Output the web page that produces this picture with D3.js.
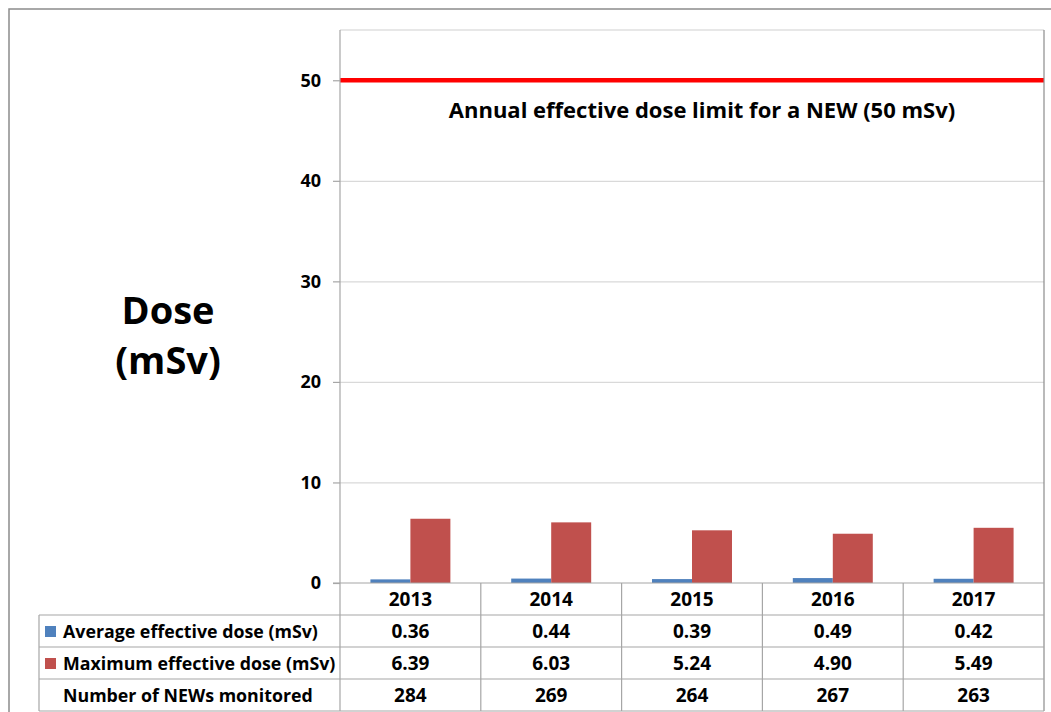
<!DOCTYPE html>
<html>
<head>
<meta charset="utf-8">
<script src="https://cdn.jsdelivr.net/npm/d3@7"></script>
<style>
  html, body { margin: 0; padding: 0; background: #fff; }
  svg { display: block; font-family: "Open Sans", "Noto Sans", sans-serif; }
</style>
</head>
<body>
<svg id="chart" width="1051" height="712"></svg>
<script>
// ---- data ----
const years = ["2013", "2014", "2015", "2016", "2017"];
const averageDose = [0.36, 0.44, 0.39, 0.49, 0.42];
const maximumDose = [6.39, 6.03, 5.24, 4.90, 5.49];
const numberMonitored = [284, 269, 264, 267, 263];
const seriesNames = ["Average effective dose (mSv)", "Maximum effective dose (mSv)"];
const rowLabel3 = "Number of NEWs monitored";
const yTicks = [0, 10, 20, 30, 40, 50];
const doseLimit = 50;
const limitLabel = "Annual effective dose limit for a NEW (50 mSv)";
const yTitle = ["Dose", "(mSv)"];

// ---- layout ----
const svg = d3.select("#chart");
const plotL = 340, plotR = 1044, plotT = 30, plotB = 583;
const tableL = 39, rowH = 32;
const colors = ["#4F81BD", "#C0504D"];

// outer frame
svg.append("rect").attr("x", 9).attr("y", 9).attr("width", 1200).attr("height", 900)
  .attr("fill", "none").attr("stroke", "#8c8c8c").attr("stroke-width", 1.5);

const x0 = d3.scaleBand().domain(years).range([plotL, plotR]).paddingInner(0.432).paddingOuter(0.216);
const xCat = d3.scaleBand().domain(years).range([plotL, plotR]).padding(0);
const x1 = d3.scaleBand().domain([0, 1]).range([0, x0.bandwidth()]);
const y = d3.scaleLinear().domain([0, 55]).range([plotB, plotT]);

// gridlines
svg.append("g").attr("transform", `translate(${plotL},0)`)
  .call(d3.axisLeft(y).tickValues(yTicks.filter(d => d > 0)).tickSize(-(plotR - plotL)).tickFormat(""))
  .call(g => g.select(".domain").remove())
  .call(g => g.selectAll("line").attr("stroke", "#d9d9d9").attr("stroke-width", 1.2));

// plot top border
svg.append("line").attr("x1", plotL).attr("x2", plotR).attr("y1", plotT).attr("y2", plotT)
  .attr("stroke", "#d0d0d0").attr("stroke-width", 1.2);

// bars
const series = [averageDose, maximumDose];
series.forEach((vals, si) => {
  svg.append("g").selectAll("rect").data(years).join("rect")
    .attr("x", d => x0(d) + x1(si))
    .attr("width", x1.bandwidth())
    .attr("y", (d, i) => y(vals[i]))
    .attr("height", (d, i) => y(0) - y(vals[i]))
    .attr("fill", colors[si]);
});

// limit line
svg.append("line").attr("x1", plotL).attr("x2", plotR)
  .attr("y1", y(doseLimit)).attr("y2", y(doseLimit))
  .attr("stroke", "#FF0000").attr("stroke-width", 4.5);

svg.append("text").attr("x", 702).attr("y", 118).attr("text-anchor", "middle")
  .attr("font-size", 22).attr("font-weight", "bold").attr("fill", "#000")
  .text(limitLabel);

// y axis
const yAxisG = svg.append("g").attr("transform", `translate(${plotL},0)`)
  .call(d3.axisLeft(y).tickValues(yTicks).tickSize(7).tickPadding(12).tickFormat(d3.format("d")));
yAxisG.select(".domain").remove();
yAxisG.selectAll("line").attr("stroke", "#a6a6a6").attr("stroke-width", 1.2);
yAxisG.selectAll("text").attr("font-size", 18).attr("font-weight", "bold").attr("fill", "#000")
  .attr("font-family", "'Open Sans', sans-serif");

// axis vertical line (plot left) extends through table
svg.append("line").attr("x1", plotL).attr("x2", plotL).attr("y1", plotT).attr("y2", plotB + rowH * 4)
  .attr("stroke", "#a6a6a6").attr("stroke-width", 1.2);
// right border
svg.append("line").attr("x1", plotR).attr("x2", plotR).attr("y1", plotT).attr("y2", plotB + rowH * 4)
  .attr("stroke", "#8c8c8c").attr("stroke-width", 1.2);

// y title
yTitle.forEach((t, i) => {
  svg.append("text").attr("x", 168).attr("y", 324 + i * 50).attr("text-anchor", "middle")
    .attr("font-size", 38).attr("font-weight", "bold").attr("fill", "#000").text(t);
});

// ---- data table ----
const tbl = svg.append("g");
// horizontal lines
[0, 1, 2, 3, 4].forEach(r => {
  const yy = plotB + r * rowH;
  tbl.append("line").attr("x1", r === 0 ? plotL - 7 : tableL).attr("x2", plotR)
    .attr("y1", yy).attr("y2", yy)
    .attr("stroke", "#a6a6a6").attr("stroke-width", 1.2);
});
// left border
tbl.append("line").attr("x1", tableL).attr("x2", tableL).attr("y1", plotB + rowH).attr("y2", plotB + rowH * 4)
  .attr("stroke", "#a6a6a6").attr("stroke-width", 1.2);
// column dividers
years.slice(1).forEach(yr => {
  tbl.append("line").attr("x1", xCat(yr)).attr("x2", xCat(yr))
    .attr("y1", plotB).attr("y2", plotB + rowH * 4)
    .attr("stroke", "#a6a6a6").attr("stroke-width", 1.2);
});

const rows = [
  years,
  averageDose.map(v => v.toFixed(2)),
  maximumDose.map(v => v.toFixed(2)),
  numberMonitored.map(v => String(v))
];
rows.forEach((vals, r) => {
  tbl.append("g").selectAll("text").data(vals).join("text")
    .attr("x", (d, i) => xCat(years[i]) + xCat.bandwidth() / 2)
    .attr("y", plotB + r * rowH + rowH / 2 + 7)
    .attr("text-anchor", "middle").attr("font-size", 19).attr("font-weight", "bold").attr("fill", "#000")
    .text(d => d);
});

// row labels with legend keys
const labels = [seriesNames[0], seriesNames[1], rowLabel3];
labels.forEach((lab, i) => {
  const cy = plotB + (i + 1) * rowH + rowH / 2;
  if (i < 2) {
    tbl.append("rect").attr("x", 45).attr("y", cy - 5).attr("width", 11).attr("height", 11)
      .attr("fill", colors[i]);
  }
  tbl.append("text").attr("x", 63).attr("y", cy + 6.5)
    .attr("font-size", 17.8).attr("font-weight", "bold").attr("fill", "#000").text(lab);
});
</script>
</body>
</html>
